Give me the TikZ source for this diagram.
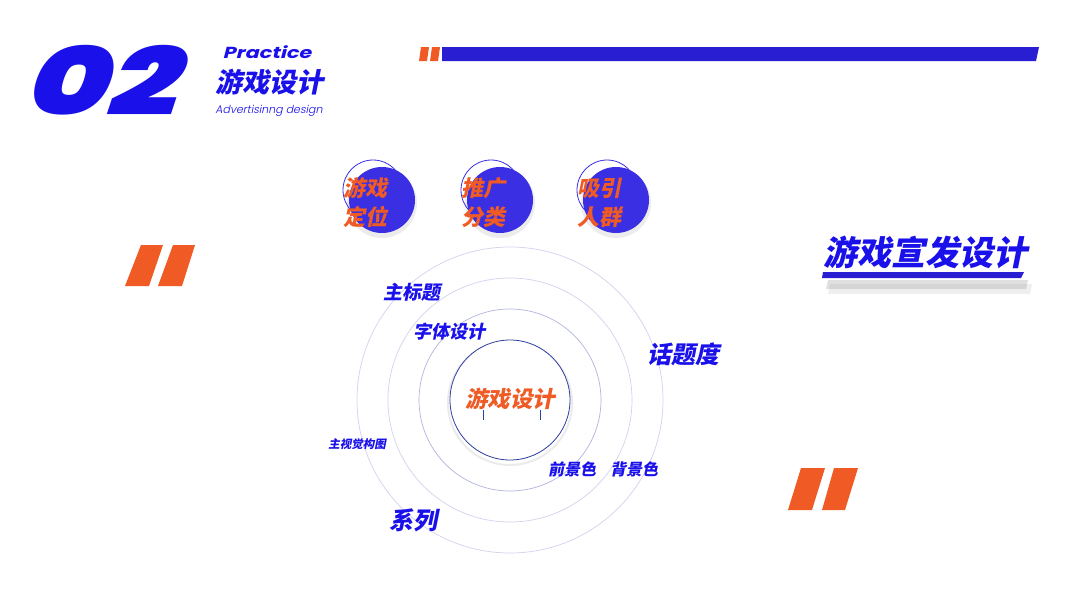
\documentclass[tikz,border=0pt]{standalone}
\usepackage{fontspec}
\newfontfamily\cjk[FakeSlant=0.2]{Noto Sans CJK SC Black}
\newfontfamily\numfont[FakeSlant=0.25]{Poppins Black}
\newfontfamily\latinb[FakeSlant=0.2]{Poppins Bold}
\newfontfamily\latinl[FakeSlant=0.2]{Poppins Light}
\definecolor{myblue}{HTML}{1A10EA}
\definecolor{barblue}{HTML}{2A1ED2}
\definecolor{ballblue}{HTML}{3A2FE2}
\definecolor{myorange}{HTML}{F05A24}
\definecolor{ringc}{HTML}{D2D2EE}
\definecolor{darkring}{HTML}{2F3F9F}

\begin{document}
\begin{tikzpicture}[x=1pt,y=-1pt,
    bluetxt/.style={text=myblue,inner sep=0pt,font=\cjk\fontsize{#1}{#1}\selectfont},
    orangetxt/.style={text=myorange,inner sep=0pt,font=\cjk\fontsize{#1}{#1}\selectfont},
    ball/.style={fill=ballblue},
    ring/.style={draw=ringc,line width=0.7pt}]
    \useasboundingbox[fill=white] (0,0) rectangle (1066,600);
    % title block
    \node[text=myblue,inner sep=0pt,font=\numfont\fontsize{94}{94}\selectfont] (num) at (98,80) {\scalebox{1.32}[1]{02}};
    \node[text=myblue,inner sep=0pt,font=\latinb\fontsize{16}{16}\selectfont] (prac) at (267,52) {\scalebox{1.3}[1]{Practice}};
    \node[bluetxt=27] (game) at (269,82) {游戏设计};
    \node[text=myblue,inner sep=0pt,font=\latinl\fontsize{11}{11}\selectfont] (adv) at (269,111) {Advertisinng design};
    \fill[myorange] (419,61) -- (421,47) -- (429,47) -- (427,61) -- cycle;
    \fill[myorange] (430,61) -- (432,47) -- (440,47) -- (438,61) -- cycle;
    \fill[barblue] (442,61) -- (442,47) -- (1039,47) -- (1036,61) -- cycle;
    % quote marks
    \fill[myorange] (125,286) -- (141,245) -- (163,245) -- (149,286) -- cycle;
    \fill[myorange] (158,286) -- (173,245) -- (195,245) -- (182,286) -- cycle;
    \fill[myorange] (788,510) -- (801,468) -- (825,468) -- (812,510) -- cycle;
    \fill[myorange] (822,510) -- (834,468) -- (858,468) -- (845,510) -- cycle;
    % three bubbles
    \foreach \bx/\name/\top/\bot in {382/pos/游戏/定位, 500/ext/推广/分类, 616/crowd/吸引/人群}{
        \fill[black!12,opacity=0.6] (\bx,203) circle (35);
        \fill[ball] (\bx,200) circle (33);
        \draw[ballblue,line width=0.8pt] (\bx-9,190) circle (30);
        \node[orangetxt=22] (\name-a) at (\bx-17,188) {\top};
        \node[orangetxt=22] (\name-b) at (\bx-17,217) {\bot};
    }
    % headline
    \fill[black!30,opacity=0.2] (830,284) -- (1032,284) -- (1030,294) -- (828,294) -- cycle;
    \fill[black!40,opacity=0.3] (828,280) -- (1028,280) -- (1026,289) -- (826,289) -- cycle;
    \fill[barblue] (823,272) -- (1024,272) -- (1021,278) -- (822,278) -- cycle;
    \node[bluetxt=34] (promo) at (925,252) {游戏宣发设计};
    % rings
    \draw[ring] (510,400) circle (153);
    \draw[ring] (510,400) circle (122);
    \draw[ring,draw=ringc!80!darkring] (510,400) circle (91);
    \draw[black!8,line width=2pt] (510,403) circle (62);
    \node[circle,draw=darkring,line width=0.8pt,minimum size=120pt,inner sep=0pt,fill=white] (core) at (510,400) {};
    \node[orangetxt=22.5] (coretxt) at (510,399) {游戏设计};
    \draw[darkring,line width=0.6pt] (483,410) -- (483,420);
    \draw[darkring,line width=0.6pt] (540,410) -- (540,420);
    % ring labels
    \node[bluetxt=19] (mtitle) at (412,292) {主标题};
    \node[bluetxt=18] (font) at (449,332) {字体设计};
    \node[bluetxt=24] (topic) at (683,354) {话题度};
    \node[bluetxt=11.5] (visual) at (357,444) {主视觉构图};
    \node[bluetxt=16] (fg) at (572,469) {前景色};
    \node[bluetxt=16] (bg) at (634,469) {背景色};
    \node[bluetxt=24] (series) at (413,520) {系列};
\end{tikzpicture}
\end{document}
